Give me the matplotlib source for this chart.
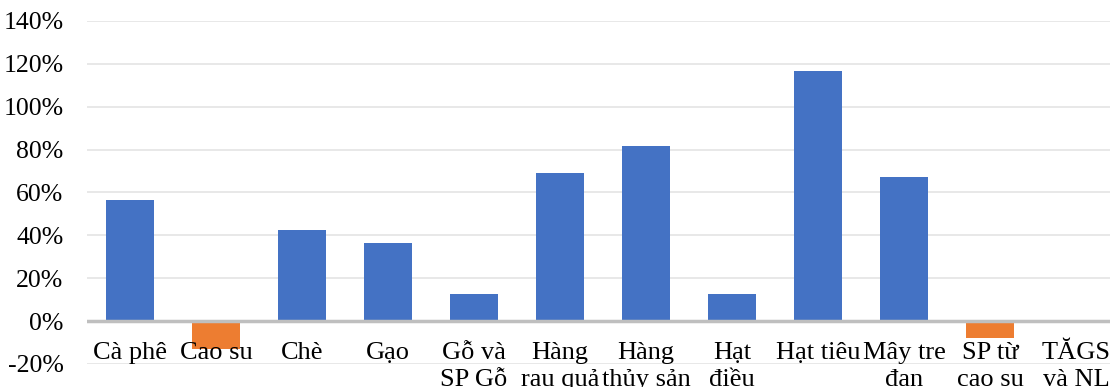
import matplotlib.pyplot as plt
from matplotlib.ticker import FuncFormatter

plt.rcParams['font.family'] = ['Liberation Serif', 'DejaVu Serif']

# tăng trưởng xuất khẩu theo mặt hàng (%)
mat_hang = ["Cà phê", "Cao su", "Chè", "Gạo", "Gỗ và\nSP Gỗ", "Hàng\nrau quả",
            "Hàng\nthủy sản", "Hạt\nđiều", "Hạt tiêu", "Mây tre\nđan",
            "SP từ\ncao su", "TĂGS\nvà NL"]
tang_truong = [56.7, -13.0, 42.4, 36.4, 12.6, 69.0, 81.6, 12.6, 116.8, 67.2, -7.8, 0.0]

BLUE = "#4472C4"
ORANGE = "#ED7D31"

fig = plt.figure(figsize=(11.10, 3.87), dpi=100)
# the plot area runs slightly past the right edge
ax = fig.add_axes([87 / 1110, 23 / 387, 1032 / 1110, 343 / 387])

x = range(len(mat_hang))
colors = [BLUE if v >= 0 else ORANGE for v in tang_truong]
ax.bar(x, tang_truong, width=0.55, color=colors, zorder=3)

ax.set_xlim(-0.5, len(mat_hang) - 0.5)
ax.set_ylim(-20, 140)
ax.set_yticks(range(-20, 141, 20))
ax.yaxis.set_major_formatter(FuncFormatter(lambda v, p: f"{v:.0f}%"))
ax.grid(axis="y", color="#e6e6e6", linewidth=1.3, zorder=0)
ax.axhline(0, color="#bfbfbf", linewidth=2.5, zorder=4)

for s in ["top", "right", "left"]:
    ax.spines[s].set_visible(False)
# category labels hang right under the zero line, on top of the bars
ax.spines["bottom"].set_position(("data", 0))
ax.spines["bottom"].set_visible(False)
ax.xaxis.set_zorder(5)

ax.set_xticks(list(x))
ax.set_xticklabels(mat_hang, fontsize=19, linespacing=1.3)
ax.tick_params(axis="x", length=0, pad=15)
ax.tick_params(axis="y", length=0, pad=17, labelsize=18.5)

fig.savefig("out.png", dpi=100)
